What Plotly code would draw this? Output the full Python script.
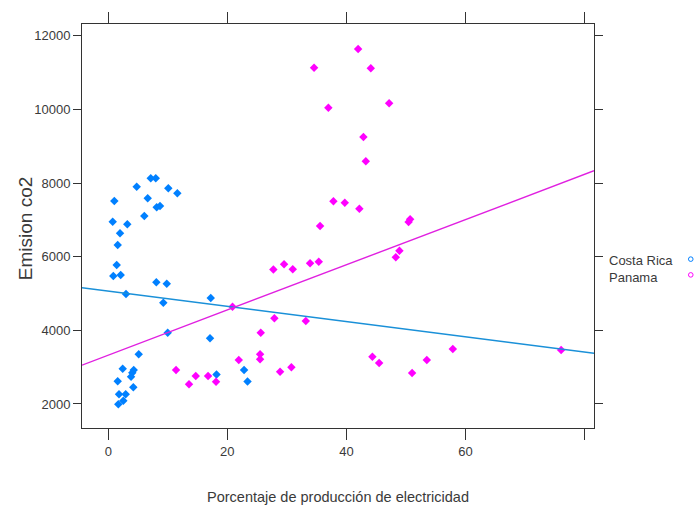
import plotly.graph_objects as go

# ---------------- data ----------------
cr_x = [1.01, 0.74, 1.97, 3.19, 1.58, 1.41, 0.84, 2.08, 2.97, 4.77, 6.62, 6.05, 7.13, 7.97,
        8.13, 8.69, 10.08, 11.60, 8.07, 9.82, 9.24, 9.98, 17.21, 17.09, 5.11, 2.42, 4.27,
        4.03, 3.82, 1.58, 4.20, 1.80, 2.92, 1.68, 2.52, 18.18, 22.81, 23.39]
cr_y = [7511, 6949, 6635, 6879, 6317, 5774, 5475, 5502, 4987, 7900, 7585, 7104, 8128, 8128,
        7340, 7376, 7856, 7721, 5304, 5266, 4750, 3936, 4878, 3784, 3349, 2958, 2923,
        2850, 2741, 2616, 2453, 2263, 2263, 1992, 2090, 2801, 2923, 2611]

pa_x = [41.97, 34.57, 44.10, 36.97, 47.18, 42.86, 43.26, 37.82, 39.73, 42.18, 35.58, 50.71,
        50.45, 48.91, 48.30, 35.36, 33.90, 30.99, 29.53, 27.73, 20.87, 27.90, 33.18, 25.61,
        25.50, 25.50, 21.92, 11.38, 13.56, 14.69, 16.76, 18.10, 28.86, 30.76, 44.37, 45.50,
        51.04, 53.51, 57.88, 76.08]
pa_y = [11638, 11131, 11114, 10045, 10164, 9249, 8589, 7503, 7465, 7302, 6833, 7015,
        6941, 6162, 5983, 5863, 5820, 5657, 5793, 5652, 4642, 4327, 4253, 3936,
        3349, 3216, 3195, 2923, 2535, 2760, 2760, 2605, 2877, 2996, 3284, 3113,
        2842, 3195, 3493, 3466]

# regression lines (ends at the panel edges)
fit_x = [-4.42, 81.6]
cr_fit_y = [5158, 3376]
pa_fit_y = [3053, 8334]

x_ticks = [0, 20, 40, 60, 80]
x_tick_text = ["0", "20", "40", "60", ""]
y_ticks = [2000, 4000, 6000, 8000, 10000, 12000]
y_tick_text = ["2000", "4000", "6000", "8000", "10000", "12000"]

series_names = ["Costa Rica", "Panama"]
BLUE = "#0080ff"
MAG = "#ff00ff"

FONT = "Liberation Sans, Arial, sans-serif"
TXT = "#3a3a3a"

fig = go.Figure()
fig.add_trace(go.Scatter(x=cr_x, y=cr_y, mode="markers", name=series_names[0],
                         marker=dict(symbol="diamond", size=6.5, color=BLUE,
                                     line=dict(width=0))))
fig.add_trace(go.Scatter(x=pa_x, y=pa_y, mode="markers", name=series_names[1],
                         marker=dict(symbol="diamond", size=6.5, color=MAG,
                                     line=dict(width=0))))
fig.add_trace(go.Scatter(x=fit_x, y=cr_fit_y, mode="lines", showlegend=False,
                         line=dict(color="#1a90d8", width=1.4)))
fig.add_trace(go.Scatter(x=fit_x, y=pa_fit_y, mode="lines", showlegend=False,
                         line=dict(color="#e020e0", width=1.4)))

axis_common = dict(showgrid=False, zeroline=False, showline=True, linecolor="#333333",
                   linewidth=1, mirror="ticks", ticks="outside", tickcolor="#333333",
                   tickwidth=1, tickfont=dict(family=FONT, size=13, color=TXT))

fig.update_xaxes(range=[-4.42, 81.6], tickvals=x_ticks, ticktext=x_tick_text,
                 ticklen=11, **axis_common)
fig.update_yaxes(range=[1348, 12318], tickvals=y_ticks, ticktext=y_tick_text,
                 ticklen=8, **axis_common)

annotations = [
    dict(text="Emision co2", xref="paper", yref="paper", x=-0.111, y=0.495,
         textangle=-90, showarrow=False, xanchor="center", yanchor="middle",
         font=dict(family=FONT, size=19, color=TXT)),
    dict(text="Porcentaje de producción de electricidad", xref="paper", yref="paper",
         x=0.5, y=-0.171, showarrow=False, xanchor="center", yanchor="middle",
         font=dict(family=FONT, size=14.5, color=TXT)),
    dict(text=series_names[0], xref="paper", yref="paper", x=1.025, y=0.414,
         showarrow=False, xanchor="left", yanchor="middle",
         font=dict(family=FONT, size=13, color=TXT)),
    dict(text=series_names[1], xref="paper", yref="paper", x=1.025, y=0.372,
         showarrow=False, xanchor="left", yanchor="middle",
         font=dict(family=FONT, size=13, color=TXT)),
]

rx = 2.3 / 512
ry = 2.3 / 404
shapes = []
for cy, col in [(0.418, BLUE), (0.379, MAG)]:
    shapes.append(dict(type="circle", xref="paper", yref="paper",
                       x0=1.189 - rx, x1=1.189 + rx, y0=cy - ry, y1=cy + ry,
                       line=dict(color=col, width=1), fillcolor="rgba(0,0,0,0)"))

fig.update_layout(width=697, height=512, margin=dict(l=82, r=103, t=24, b=84),
                  plot_bgcolor="white", paper_bgcolor="white", showlegend=False,
                  annotations=annotations, shapes=shapes)

fig.write_html("out.html")
